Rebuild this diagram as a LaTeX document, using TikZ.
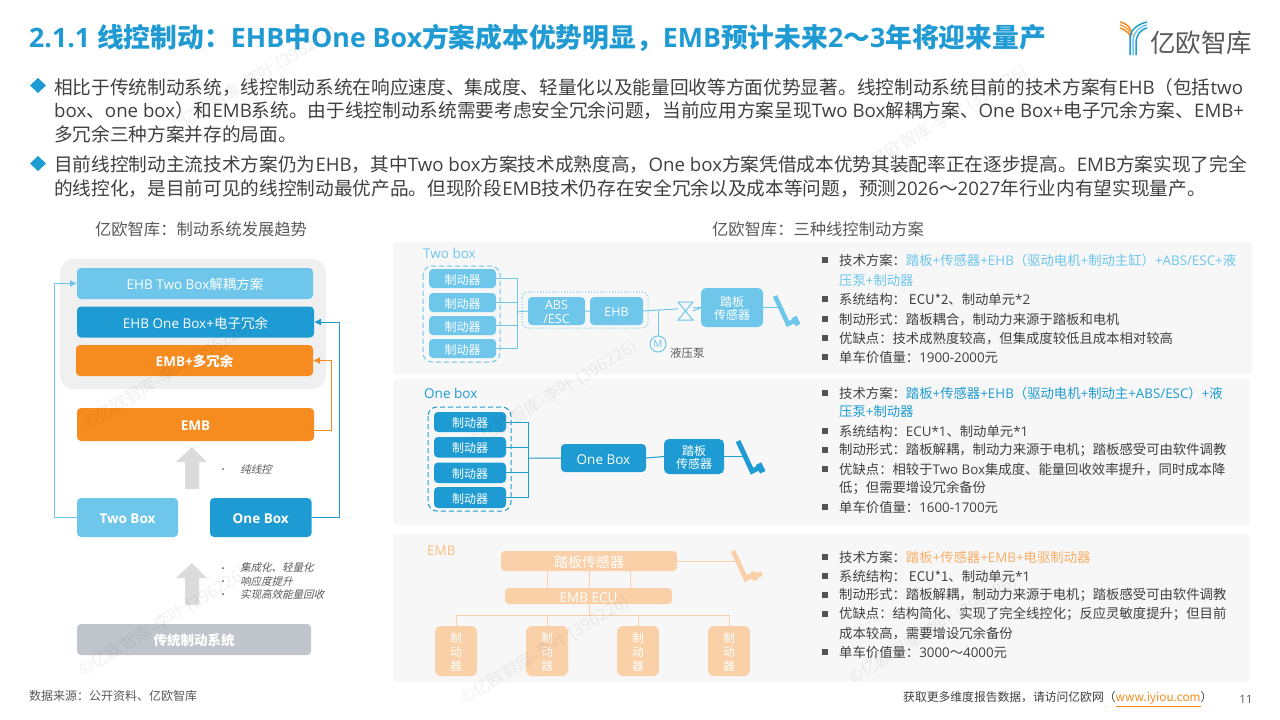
\documentclass[tikz,border=0pt]{standalone}
\usepackage{fontspec}
\usetikzlibrary{arrows.meta}
\setmainfont{Open Sans}
\newfontfamily\cjkf{Noto Sans CJK SC}
\newfontfamily\slantf[FakeSlant=0.25]{Noto Sans CJK SC}
\newcount\cc
\cc="4E00 \loop \XeTeXcharclass\cc=7 \advance\cc 1 \ifnum\cc<"A000 \repeat
\cc="3000 \loop \XeTeXcharclass\cc=7 \advance\cc 1 \ifnum\cc<"3040 \repeat
\cc="FF00 \loop \XeTeXcharclass\cc=7 \advance\cc 1 \ifnum\cc<"FFF0 \repeat
\XeTeXinterchartokenstate=1
\XeTeXinterchartoks 0 7 = {\cjkf}
\XeTeXinterchartoks 7 0 = {\rmfamily}
\XeTeXinterchartoks 4095 7 = {\cjkf}
\definecolor{lblue}{HTML}{6EC6EB}
\definecolor{dblue}{HTML}{1E9BD2}
\definecolor{orng}{HTML}{F68B1F}
\definecolor{lorng}{HTML}{FAD0A9}
\definecolor{morng}{HTML}{F9AE66}
\definecolor{titleb}{HTML}{1F9AD3}
\definecolor{bodyt}{HTML}{404040}
\definecolor{greyt}{HTML}{595959}
\definecolor{panelg}{HTML}{F7F7F7}
\definecolor{tradg}{HTML}{C0C5CC}
\newcount\nn
\newcommand{\fs}[1]{\fontsize{#1pt}{#1pt}\selectfont}
\newcommand{\italf}{\fs{10.5}\XeTeXinterchartokenstate=0\relax\slantf}
\newcommand{\bx}[7][]{\node[inner sep=0pt,outer sep=0pt,rounded corners=4pt,#1,#6,minimum width=(#4-#2)*1pt,minimum height=(#5-#3)*1pt] (#7) at ({(#2+#4)/2},{(#3+#5)/2}) {};
 \node[inner sep=0pt,align=center,text=white,#1,#6,fill=none] (#7-l) at ([yshift=-1.2pt]#7.center) {\csname bxt@#7\endcsname};}
\newcommand{\B}[8][]{\expandafter\def\csname bxt@#7\endcsname{#8}\bx[#1]{#2}{#3}{#4}{#5}{#6}{#7}}
\newcommand{\T}[4]{\global\advance\nn 1 \node[anchor=west,inner sep=0pt,text=bodyt,#1] (t\the\nn) at (#2,#3) {#4};}
\newcommand{\RL}[2]{\T{font=\fs{13.35}}{839}{#1+0.3}{#2}}
\newcommand{\RB}[2]{\global\advance\nn 1 \node[fill=bodyt!90,minimum size=6.5pt,inner sep=0pt] (s\the\nn) at (825,#1) {}; \RL{#1}{#2}}
\newcommand{\pedal}[5]{\begin{scope}[shift={(#2,#3)},scale=#4]
 \draw[#5,line width=#4*4.6pt] (0,0)--(13,28)--(19,25);
 \draw[#5,line width=#4*5.5pt] (19,21)--(23,29);
 \end{scope}\coordinate (#1) at ({#2+#4*8},{#3+#4*15});}
\tikzset{
 gbar/.style={fill=black!14,draw=none},
 bul/.style={circle,fill=greyt,minimum size=2pt,inner sep=0pt},
 ital/.style={anchor=west,inner sep=0pt,text=greyt,font=\italf},
 wm/.style={rotate=31,anchor=west,inner sep=0pt,text=black,opacity=0.06,font=\fs{17}},
}
\begin{document}
\begin{tikzpicture}[x=1pt,y=-1pt]
\useasboundingbox (0,0) rectangle (1280,720);
\fill[white] (0,0) rectangle (1280,720);
% title
\node[anchor=west,inner sep=0pt,text=titleb,font=\fs{26.75}\bfseries] (title) at (29,38) {2.1.1 线控制动：EHB中One Box方案成本优势明显，EMB预计未来2～3年将迎来量产};
% logo
\begin{scope}[line width=1.5pt]
 \foreach \d/\c in {0/orng,3/orng!80!white,6/orng}{
  \draw[\c] (1120,{22+\d}) .. controls ({1128-\d*0.3},{24+\d}) and ({1131-\d*0.2},{28+\d}) .. ({1132-\d*0.2},{35+\d*0.4});}
 \foreach \d/\c in {0/dblue,3/lblue,6/dblue}{
  \draw[\c] (1147,{22+\d}) .. controls ({1138+\d*0.2},{24+\d}) and ({1130+\d},{30+\d}) .. ({1130+\d},{38+\d}) -- ({1130+\d},55);}
\end{scope}
\node[anchor=west,inner sep=0pt,text=greyt,font=\fs{25.5}] (logotext) at (1150,43) {亿欧智库};
% body
\fill[dblue] (38,78)--(46,85.5)--(38,93)--(30,85.5)--cycle;
\fill[dblue] (38,156)--(46,163.5)--(38,171)--(30,163.5)--cycle;
\T{font=\fs{18.67}}{54}{88}{相比于传统制动系统，线控制动系统在响应速度、集成度、轻量化以及能量回收等方面优势显著。线控制动系统目前的技术方案有EHB（包括two}
\T{font=\fs{18.67}}{54}{111}{box、one box）和EMB系统。由于线控制动系统需要考虑安全冗余问题，当前应用方案呈现Two Box解耦方案、One Box+电子冗余方案、EMB+}
\T{font=\fs{18.67}}{54}{134}{多冗余三种方案并存的局面。}
\T{font=\fs{18.67}}{54}{165}{目前线控制动主流技术方案仍为EHB，其中Two box方案技术成熟度高，One box方案凭借成本优势其装配率正在逐步提高。EMB方案实现了完全}
\T{font=\fs{18.67}}{54}{189}{的线控化，是目前可见的线控制动最优产品。但现阶段EMB技术仍存在安全冗余以及成本等问题，预测2026～2027年行业内有望实现量产。}
% left panel
\node[text=greyt,font=\fs{16.3},inner sep=0pt] (ltitle) at (201,229) {亿欧智库：制动系统发展趋势};
\B{60}{259}{326}{389}{fill=black!6,rounded corners=14pt}{lpanel}{}
\B{77}{268}{313}{299}{fill=lblue,font=\fs{13.5}}{a1}{EHB Two Box解耦方案}
\B{77}{306.5}{314}{337.5}{fill=dblue,font=\fs{13.5}}{a2}{EHB One Box+电子冗余}
\B{76}{345}{313}{376}{fill=orng,font=\fs{13.5}\bfseries}{a3}{EMB+多冗余}
\B{77}{408}{314}{441}{fill=orng,font=\fs{13.5}\bfseries}{a4}{EMB}
\B{77}{498}{178}{537}{fill=lblue,font=\fs{13.5}\bfseries}{a5}{Two Box}
\B{210}{498}{311.5}{537}{fill=dblue,font=\fs{13.5}\bfseries}{a6}{One Box}
\B{77}{624}{311}{655}{fill=tradg,font=\fs{13.5}\bfseries}{a7}{传统制动系统}
\draw[lblue,line width=0.9pt,-{Latex[length=7pt,width=7pt]}] (a5.west) -- (54,517.5) -- (54,283.5) -- (a1.west);
\draw[dblue,line width=0.9pt,-{Latex[length=7pt,width=7pt]}] (a6.east) -- (339,517.5) -- (339,322) -- (a2.east);
\draw[orng,line width=0.9pt,-{Latex[length=7pt,width=7pt]}] ([yshift=-6pt]a4.east) -- (331,430.5) -- (331,360.5) -- (a3.east);
\fill[gbar] (192,447)--(207,462)--(199,462)--(199,489)--(185,489)--(185,462)--(176,462)--cycle;
\fill[gbar] (192,563)--(207,578)--(199,578)--(199,605)--(185,605)--(185,578)--(176,578)--cycle;
\node[bul] (b1) at (223,469) {}; \node[ital] (i1) at (240,469) {纯线控};
\node[bul] (b2) at (223,568) {}; \node[ital] (i2) at (240,568) {集成化、轻量化};
\node[bul] (b3) at (223,581) {}; \node[ital] (i3) at (240,581) {响应度提升};
\node[bul] (b4) at (223,594) {}; \node[ital] (i4) at (240,594) {实现高效能量回收};
% right panels
\node[text=greyt,font=\fs{16.3},inner sep=0pt] (rtitle) at (818,229) {亿欧智库：三种线控制动方案};
\B{393}{242}{1252}{374}{fill=panelg}{p1}{}
\B{393}{379}{1250}{525}{fill=panelg}{p2}{}
\B{393}{534}{1250}{682}{fill=panelg}{p3}{}
% Two box
\node[anchor=west,inner sep=0pt,text=lblue,font=\fs{13.5}] (l1) at (423,253.5) {Two box};
\B{429}{269}{496}{288}{fill=lblue,font=\fs{12}}{c1}{制动器}
\B{429}{293}{496}{312}{fill=lblue,font=\fs{12}}{c2}{制动器}
\B{429}{316}{496}{335}{fill=lblue,font=\fs{12}}{c3}{制动器}
\B{429}{339}{496}{358}{fill=lblue,font=\fs{12}}{c4}{制动器}
\draw[lblue,line width=1pt,dash pattern=on 5pt off 3pt,rounded corners=9pt] (423,266) rectangle (500,362);
\coordinate (bus1) at (517,312);
\draw[lblue,line width=1pt] (c1.east) -| (bus1) (c2.east) -| (bus1) (c3.east) -| (bus1) (c4.east) -| (bus1);
\B{528}{297}{585}{325}{fill=lblue,font=\fs{12.5}}{abs}{ABS\\[1pt]/ESC}
\B{590}{297}{643}{325}{fill=lblue,font=\fs{12.5}}{ehb}{EHB}
\draw[lblue,line width=1pt] (bus1) -- (abs.west) (abs.east) -- (ehb.west);
\draw[lblue,line width=1pt,dotted,rounded corners=6pt] (522,292) rectangle (648,328);
\B{701}{288}{763}{327}{fill=lblue,font=\fs{12},rounded corners=5pt}{ped1}{踏板\\[1pt]传感器}
\draw[lblue,line width=1pt] (ehb.east) -- (ped1.west);
\fill[panelg] (678,302)--(693,302)--(693,320)--(678,320)--cycle;
\draw[lblue,line width=1pt] (678,302)--(693,302)--(678,320)--(693,320)--cycle;
\draw[lblue,line width=1pt] (693,311)--(ped1.west);
\node[circle,draw=lblue,line width=1pt,minimum size=16pt,inner sep=0pt,text=lblue,font=\fs{10}] (mot) at (658,344) {M};
\coordinate (tap) at (658,311);
\draw[lblue,line width=1pt] (tap) -- (mot.north);
\node[anchor=west,inner sep=0pt,text=greyt,font=\fs{11.5}] (pump) at (670,353) {液压泵};
\pedal{pa1}{775}{296}{1}{lblue}
\draw[lblue,line width=1pt] (ped1.east) -- (pa1 |- ped1.east);
% One box
\node[anchor=west,inner sep=0pt,text=dblue,font=\fs{13.5}] (l2) at (424,393) {One box};
\B{434}{412}{506}{432}{fill=dblue,font=\fs{12}}{e1}{制动器}
\B{434}{437}{506}{457.5}{fill=dblue,font=\fs{12}}{e2}{制动器}
\B{434}{462.5}{506}{483}{fill=dblue,font=\fs{12}}{e3}{制动器}
\B{434}{487}{506}{508}{fill=dblue,font=\fs{12}}{e4}{制动器}
\draw[dblue,line width=1pt,dash pattern=on 5pt off 3pt,rounded corners=9pt] (428,407) rectangle (511,511);
\coordinate (bus2) at (528,458);
\draw[dblue,line width=1pt] (e1.east) -| (bus2) (e2.east) -| (bus2) (e3.east) -| (bus2) (e4.east) -| (bus2);
\B{561}{444}{646}{472}{fill=dblue,font=\fs{13.5}}{obx}{One Box}
\B{664}{439}{724}{474}{fill=dblue,font=\fs{12},rounded corners=5pt}{ped2}{踏板\\[1pt]传感器}
\draw[dblue,line width=1pt] (bus2) -- (obx.west) (obx.east) -- (ped2.west);
\pedal{pa2}{738}{441}{1.08}{dblue}
\draw[dblue,line width=1pt] (ped2.east) -- (pa2 |- ped2.east);
% EMB
\node[anchor=west,inner sep=0pt,text=morng!80,font=\fs{13.5}] (l3) at (427,551) {EMB};
\B{501}{551}{677}{571}{fill=lorng,font=\fs{14}}{ped3}{踏板传感器}
\B{505}{588}{672}{604}{fill=lorng,font=\fs{13.5}}{ecu}{EMB ECU}
\B{435}{626}{477}{676}{fill=lorng,font=\fs{11.5},rounded corners=6pt}{f1}{制\\[2.8pt]动\\[2.8pt]器}
\B{526}{626}{568}{676}{fill=lorng,font=\fs{11.5},rounded corners=6pt}{f2}{制\\[2.8pt]动\\[2.8pt]器}
\B{617}{626}{659}{676}{fill=lorng,font=\fs{11.5},rounded corners=6pt}{f3}{制\\[2.8pt]动\\[2.8pt]器}
\B{708}{626}{750}{676}{fill=lorng,font=\fs{11.5},rounded corners=6pt}{f4}{制\\[2.8pt]动\\[2.8pt]器}
\coordinate (bus3) at (589,615);
\draw[lorng,line width=1pt] (547,571)--(547,588) (589,571)--(589,588) (630,571)--(630,588);
\draw[lorng,line width=1pt] (ecu.south -| bus3) -- (bus3);
\draw[lorng,line width=1pt] (f1.north) |- (bus3) (f2.north) |- (bus3) (f3.north) |- (bus3) (f4.north) |- (bus3);
\pedal{pa3}{733}{551}{1.0}{lorng}
\draw[lorng,line width=4.6pt] (747,577)--(762,574);
\draw[lorng,line width=1pt] (ped3.east) -- (pa3 |- ped3.east);
% right texts
\RB{260}{技术方案：\textcolor{lblue}{踏板+传感器+EHB（驱动电机+制动主缸）+ABS/ESC+液}}
\RL{280}{\textcolor{lblue}{压泵+制动器}}
\RB{299}{系统结构： ECU*2、制动单元*2}
\RB{319}{制动形式：踏板耦合，制动力来源于踏板和电机}
\RB{338}{优缺点：技术成熟度较高，但集成度较低且成本相对较高}
\RB{357}{单车价值量：1900-2000元}
\RB{393}{技术方案：\textcolor{dblue}{踏板+传感器+EHB（驱动电机+制动主+ABS/ESC）+液}}
\RL{411}{\textcolor{dblue}{压泵+制动器}}
\RB{431}{系统结构：ECU*1、制动单元*1}
\RB{450}{制动形式：踏板解耦，制动力来源于电机；踏板感受可由软件调教}
\RB{469}{优缺点：相较于Two Box集成度、能量回收效率提升，同时成本降}
\RL{488}{低；但需要增设冗余备份}
\RB{507}{单车价值量：1600-1700元}
\RB{557}{技术方案：\textcolor{morng}{踏板+传感器+EMB+电驱制动器}}
\RB{576}{系统结构： ECU*1、制动单元*1}
\RB{595}{制动形式：踏板解耦，制动力来源于电机；踏板感受可由软件调教}
\RB{614}{优缺点：结构简化、实现了完全线控化；反应灵敏度提升；但目前}
\RL{633}{成本较高，需要增设冗余备份}
\RB{652}{单车价值量：3000～4000元}
% footer
\node[anchor=west,inner sep=0pt,text=greyt,font=\fs{12}] (src) at (29,696) {数据来源：公开资料、亿欧智库};
\node[anchor=west,inner sep=0pt,text=bodyt,font=\fs{11.8}] (foot) at (903,699) {获取更多维度报告数据，请访问亿欧网（\textcolor{orng}{\underline{www.iyiou.com}}）};
\node[inner sep=0pt,text=greyt,font=\fs{11.5}] (pg) at (1246,699) {11};
% watermarks
\node[wm] (w1) at (80,672) {©亿欧智库-李叶 (396226)};
\node[wm] (w2) at (462,700) {©亿欧智库-李叶 (396226)};
\node[wm] (w3) at (850,680) {©亿欧智库-李叶 (396226)};
\node[wm] (w4) at (85,425) {©亿欧智库-李叶 (396226)};
\node[wm] (w5) at (470,445) {©亿欧智库-李叶 (396226)};
\node[wm] (w6) at (860,170) {©亿欧智库-李叶 (396226)};
\node[wm] (w7) at (170,130) {©亿欧智库-李叶 (396226)};
\end{tikzpicture}
\end{document}
